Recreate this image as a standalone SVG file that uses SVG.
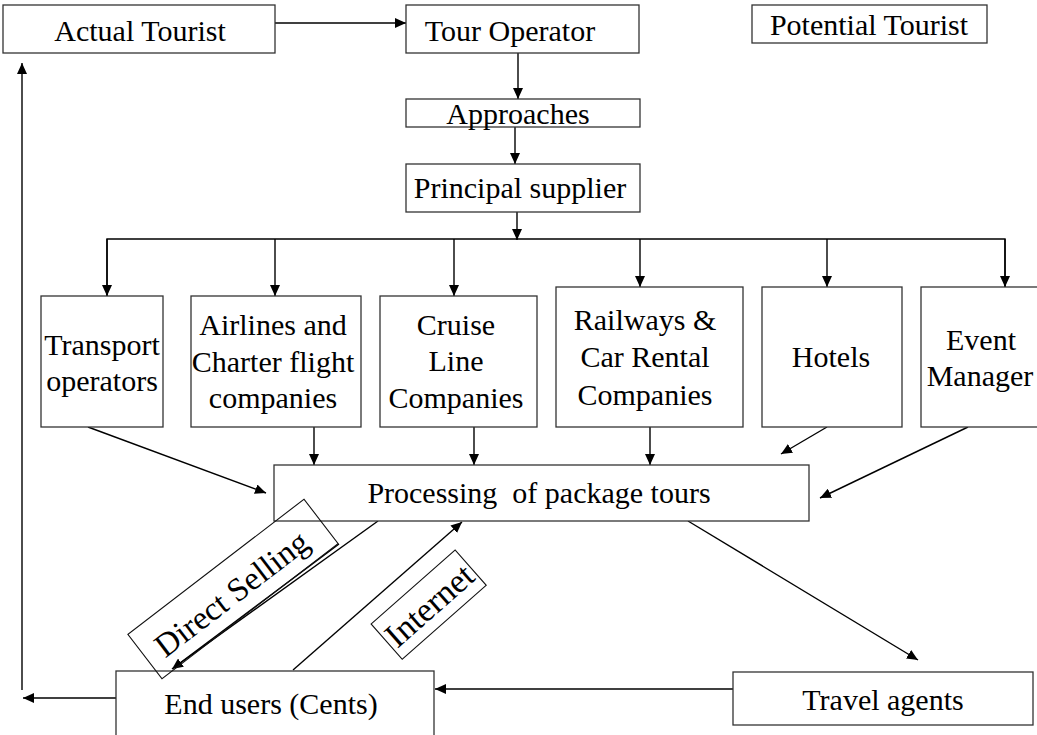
<svg xmlns="http://www.w3.org/2000/svg" width="1037" height="735" viewBox="0 0 1037 735">
<style>
.box{fill:#fff;stroke:#333;stroke-width:1.3}
.lbl{fill:none;stroke:#111;stroke-width:1.1}
.t{font-family:"Liberation Serif","Times New Roman","DejaVu Serif",serif;font-size:30px;fill:#000;text-anchor:middle}
.c{stroke:#000;stroke-width:1.4;fill:none}
.a{stroke:#000;stroke-width:1.4;fill:none;marker-end:url(#ah)}
</style>
<defs>
<marker id="ah" markerUnits="userSpaceOnUse" markerWidth="12" markerHeight="10" refX="11" refY="5" orient="auto">
<path d="M0,0 L11,5 L0,10 Z" fill="#000"/>
</marker>
</defs>
<rect width="1037" height="735" fill="#fff"/>
<g id="connectors">
<line class="a" x1="275" y1="23" x2="406" y2="23"/>
<line class="a" x1="518" y1="53" x2="518" y2="99"/>
<line class="a" x1="515" y1="127" x2="515" y2="164"/>
<line class="a" x1="517" y1="212" x2="517" y2="240"/>
<polyline class="c" points="107,296 107,239 1005,239 1005,287"/>
<line class="a" x1="107" y1="239" x2="107" y2="296"/>
<line class="a" x1="275" y1="239" x2="275" y2="296"/>
<line class="a" x1="454" y1="239" x2="454" y2="296"/>
<line class="a" x1="640" y1="239" x2="640" y2="287"/>
<line class="a" x1="827" y1="239" x2="827" y2="287"/>
<line class="a" x1="1005" y1="239" x2="1005" y2="287"/>
<line class="a" x1="88" y1="427" x2="266" y2="493"/>
<line class="a" x1="314" y1="427" x2="314" y2="465"/>
<line class="a" x1="474" y1="427" x2="474" y2="465"/>
<line class="a" x1="650" y1="427" x2="650" y2="465"/>
<line class="a" x1="827" y1="427" x2="781" y2="454"/>
<line class="a" x1="968" y1="427" x2="820" y2="498"/>
<line class="a" x1="688" y1="521" x2="918" y2="660"/>
<line class="a" x1="733" y1="689" x2="435" y2="689"/>
<line class="a" x1="116" y1="698" x2="23" y2="698"/>
<line class="a" x1="22" y1="690" x2="22" y2="63"/>
<line class="a" x1="378" y1="521" x2="172" y2="669"/>
<line class="c" x1="339" y1="544" x2="180" y2="663"/>
<line class="a" x1="293" y1="670" x2="462" y2="522"/>
</g>
<g id="actual-tourist"><rect class="box" x="3" y="5" width="272" height="48"/><text class="t" x="140" y="41">Actual Tourist</text></g>
<g id="tour-operator"><rect class="box" x="406" y="5" width="233" height="48"/><text class="t" x="510" y="41">Tour Operator</text></g>
<g id="potential-tourist"><rect class="box" x="752" y="5" width="235" height="38"/><text class="t" x="869" y="35">Potential Tourist</text></g>
<g id="approaches"><rect class="box" x="406" y="99" width="234" height="28"/><text class="t" x="518" y="124">Approaches</text></g>
<g id="principal-supplier"><rect class="box" x="406" y="164" width="234" height="48"/><text class="t" x="520" y="198">Principal supplier</text></g>
<g id="transport"><rect class="box" x="41" y="296" width="122" height="131"/><text class="t" x="102" y="355">Transport</text><text class="t" x="102" y="391">operators</text></g>
<g id="airlines"><rect class="box" x="191" y="296" width="170" height="131"/><text class="t" x="273" y="335">Airlines and</text><text class="t" x="273" y="372">Charter flight</text><text class="t" x="273" y="408">companies</text></g>
<g id="cruise"><rect class="box" x="380" y="296" width="157" height="131"/><text class="t" x="456" y="335">Cruise</text><text class="t" x="456" y="371">Line</text><text class="t" x="456" y="408">Companies</text></g>
<g id="railways"><rect class="box" x="556" y="287" width="187" height="140"/><text class="t" x="645" y="330">Railways &amp;</text><text class="t" x="645" y="367">Car Rental</text><text class="t" x="645" y="405">Companies</text></g>
<g id="hotels"><rect class="box" x="762" y="287" width="140" height="140"/><text class="t" x="831" y="367">Hotels</text></g>
<g id="event-manager"><rect class="box" x="921" y="287" width="130" height="140"/><text class="t" x="981" y="350">Event</text><text class="t" x="980" y="386">Manager</text></g>
<g id="processing"><rect class="box" x="274" y="465" width="535" height="56"/><text class="t" x="539" y="503" xml:space="preserve">Processing  of package tours</text></g>
<g id="end-users"><rect class="box" x="116" y="671" width="318" height="70"/><text class="t" x="271" y="714">End users (Cents)</text></g>
<g id="travel-agents"><rect class="box" x="733" y="672" width="300" height="53"/><text class="t" x="883" y="710">Travel agents</text></g>
<g id="direct-selling" transform="translate(233,589) rotate(-37.5)"><rect class="lbl" x="-111" y="-28" width="222" height="56"/><text class="t" x="-4" y="14" style="font-size:33px">Direct Selling</text></g>
<g id="internet" transform="translate(429,605) rotate(-41.4)"><rect class="lbl" x="-56" y="-24" width="112" height="47"/><text class="t" x="0" y="12" style="font-size:34px">Internet</text></g>
</svg>
